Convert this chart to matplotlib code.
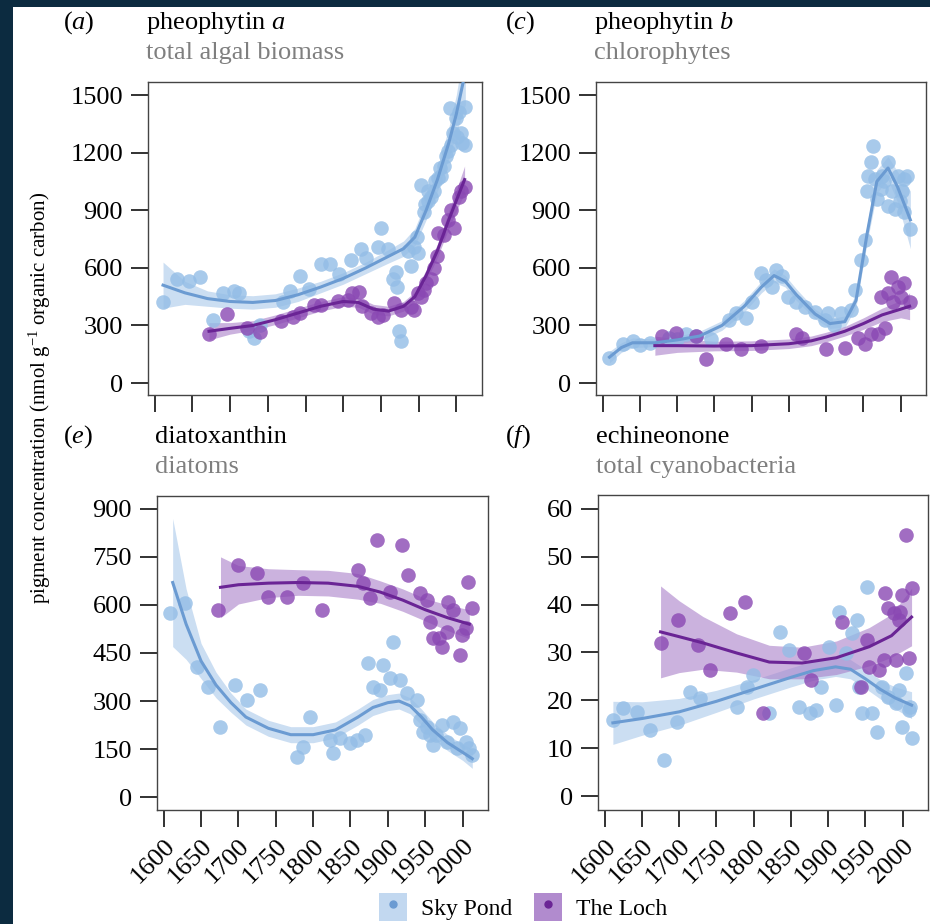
import matplotlib
matplotlib.use("Agg")
import matplotlib.pyplot as plt
from matplotlib.patches import Rectangle, Patch
from matplotlib.lines import Line2D
import numpy as np

plt.rcParams["font.family"] = ["Liberation Serif", "DejaVu Serif"]
plt.rcParams["mathtext.fontset"] = "custom"
plt.rcParams["mathtext.rm"] = "Liberation Serif"
plt.rcParams["mathtext.it"] = "Liberation Serif:italic"

# ---- colours
sky_pt, sky_line, sky_band = "#93bde6", "#6b9bd2", "#a9c8ea"
loch_pt, loch_line, loch_band = "#8a48b3", "#6a2495", "#a97fc9"

# ---- (a) pheophytin a
a_sky_yr = [1611, 1630, 1645, 1660, 1677, 1690, 1705, 1712, 1725, 1732, 1740, 1770, 1780, 1793, 1805,
            1820, 1833, 1845, 1860, 1873, 1880, 1896, 1900, 1909, 1916, 1920, 1922, 1924, 1926, 1936,
            1940, 1944, 1948, 1949, 1953, 1957, 1958, 1962, 1963, 1967, 1970, 1972, 1976, 1978, 1980,
            1984, 1986, 1989, 1991, 1993, 1995, 1999, 2001, 2004, 2006, 2008, 2011, 2012]
a_sky_val = [420, 540, 530, 550, 330, 470, 480, 470, 270, 235, 300, 420, 480, 560, 490,
             620, 620, 570, 640, 700, 650, 710, 810, 700, 540, 580, 500, 270, 220, 690,
             610, 710, 760, 680, 1030, 890, 930, 950, 1000, 970, 1000, 1050, 1070, 1120, 1080,
             1130, 1180, 1210, 1430, 1240, 1300, 1380, 1280, 1410, 1300, 1250, 1440, 1240]
a_loch_yr = [1672, 1696, 1723, 1740, 1767, 1784, 1793, 1811, 1820, 1843, 1857, 1862, 1871, 1875, 1887,
             1896, 1903, 1917, 1927, 1940, 1944, 1949, 1953, 1957, 1960, 1967, 1970, 1974, 1976, 1984,
             1989, 1993, 1997, 2003, 2006, 2011]
a_loch_val = [255, 360, 285, 265, 325, 345, 365, 405, 405, 430, 435, 470, 475, 400, 365,
              345, 355, 415, 380, 395, 380, 470, 450, 485, 520, 540, 600, 660, 780, 770,
              850, 900, 810, 970, 1000, 1020]
a_sky_fit_yr = [1611, 1640, 1670, 1700, 1730, 1760, 1790, 1820, 1850, 1880, 1910, 1930, 1945, 1960,
                1975, 1990, 2000, 2012]
a_sky_fit = [510, 470, 440, 425, 420, 430, 460, 500, 545, 600, 660, 700, 760, 900, 1060, 1250, 1400, 1620]
a_sky_se = [120, 60, 40, 35, 35, 35, 35, 30, 30, 30, 35, 40, 45, 50, 60, 80, 100, 170]
a_loch_fit_yr = [1672, 1700, 1730, 1760, 1790, 1820, 1850, 1870, 1890, 1910, 1930, 1945, 1960, 1975,
                 1990, 2000, 2011]
a_loch_fit = [270, 285, 300, 330, 365, 400, 425, 420, 385, 375, 400, 450, 560, 690, 850, 950, 1060]
a_loch_se = [45, 30, 25, 25, 25, 25, 25, 25, 25, 25, 25, 25, 30, 35, 45, 55, 70]

# ---- (c) pheophytin b
c_sky_yr = [1609, 1627, 1640, 1650, 1663, 1689, 1700, 1712, 1725, 1745, 1769, 1779, 1792, 1800, 1813,
            1819, 1827, 1832, 1840, 1849, 1860, 1872, 1885, 1899, 1903, 1910, 1920, 1933, 1939, 1947,
            1952, 1955, 1956, 1960, 1963, 1965, 1968, 1973, 1975, 1978, 1983, 1983, 1988, 1992, 1996,
            1999, 2002, 2005, 2005, 2009, 2013]
c_sky_val = [132, 205, 221, 200, 210, 237, 230, 258, 247, 230, 326, 363, 337, 420, 574,
             537, 500, 590, 560, 447, 420, 395, 370, 326, 363, 300, 363, 379, 484, 642,
             747, 1000, 1079, 1153, 1237, 1063, 960, 1010, 1080, 1050, 1153, 921, 1000, 905, 1079,
             950, 1000, 1063, 889, 1079, 800]
c_loch_yr = [1680, 1699, 1725, 1739, 1765, 1785, 1813, 1859, 1867, 1900, 1925, 1943, 1952, 1960, 1969,
             1973, 1979, 1983, 1987, 1990, 1996, 2000, 2005, 2013]
c_loch_val = [247, 263, 247, 126, 205, 179, 195, 258, 237, 179, 184, 237, 205, 258, 258,
              447, 289, 468, 553, 420, 500, 450, 521, 421]
c_sky_fit_yr = [1609, 1625, 1640, 1670, 1700, 1730, 1760, 1790, 1813, 1830, 1845, 1860, 1885, 1905,
                1925, 1940, 1955, 1968, 1983, 1996, 2013]
c_sky_fit = [135, 185, 210, 210, 225, 245, 300, 400, 500, 560, 530, 460, 360, 310, 320, 430, 780,
             1050, 1120, 1020, 850]
c_sky_se = [30, 25, 25, 20, 20, 25, 25, 30, 30, 35, 30, 30, 25, 25, 30, 35, 45, 60, 60, 80, 150]
c_loch_fit_yr = [1670, 1700, 1750, 1800, 1850, 1880, 1900, 1925, 1950, 1975, 2000, 2012]
c_loch_fit = [195, 195, 193, 195, 205, 220, 240, 270, 310, 355, 385, 400]
c_loch_se = [50, 35, 25, 25, 25, 25, 25, 25, 30, 35, 45, 70]

# ---- (e) diatoxanthin
e_sky_yr = [1609, 1629, 1645, 1659, 1676, 1696, 1712, 1729, 1779, 1787, 1796, 1823, 1827, 1836, 1849,
            1859, 1869, 1873, 1880, 1889, 1893, 1903, 1907, 1916, 1925, 1939, 1943, 1947, 1952, 1956,
            1960, 1965, 1973, 1979, 1987, 1992, 1996, 2005, 2009, 2013]
e_sky_val = [575, 606, 406, 344, 219, 350, 303, 334, 125, 156, 250, 178, 137, 184, 169,
             178, 194, 419, 344, 334, 412, 372, 484, 366, 325, 303, 241, 203, 219, 194,
             162, 194, 225, 172, 234, 153, 216, 172, 153, 131]
e_loch_yr = [1673, 1699, 1725, 1740, 1765, 1787, 1812, 1860, 1867, 1876, 1885, 1903, 1919, 1927, 1943,
             1952, 1956, 1960, 1969, 1973, 1979, 1980, 1987, 1996, 1999, 2005, 2007, 2012]
e_loch_val = [584, 725, 700, 625, 625, 669, 584, 709, 669, 622, 803, 641, 788, 694, 638,
              616, 547, 497, 497, 469, 516, 609, 584, 444, 506, 528, 672, 591]
e_sky_fit_yr = [1612, 1630, 1650, 1670, 1690, 1710, 1740, 1770, 1800, 1830, 1860, 1880, 1900, 1915,
                1930, 1945, 1960, 1980, 2000, 2013]
e_sky_fit = [670, 540, 425, 350, 295, 250, 215, 195, 195, 210, 250, 280, 295, 300, 285, 250, 210,
             170, 140, 120]
e_sky_se = [200, 110, 55, 40, 30, 25, 25, 25, 25, 25, 25, 25, 25, 25, 25, 25, 25, 25, 25, 30]
e_loch_fit_yr = [1676, 1700, 1740, 1780, 1820, 1860, 1890, 1920, 1950, 1980, 2009]
e_loch_fit = [655, 663, 668, 670, 668, 658, 640, 615, 585, 560, 540]
e_loch_se = [95, 60, 45, 40, 40, 40, 35, 35, 35, 40, 45]

# ---- (f) echineonone
f_sky_yr = [1611, 1625, 1644, 1661, 1679, 1697, 1715, 1728, 1777, 1791, 1799, 1821, 1835, 1848, 1861,
            1875, 1884, 1891, 1901, 1911, 1915, 1924, 1932, 1939, 1941, 1945, 1952, 1959, 1965, 1972,
            1981, 1991, 1995, 1999, 2004, 2008, 2010, 2012]
f_sky_val = [15.9, 18.4, 17.6, 13.8, 7.5, 15.5, 21.8, 20.5, 18.6, 22.8, 25.3, 17.4, 34.3, 30.5, 18.6,
             17.4, 18.0, 22.8, 31.2, 19.0, 38.5, 29.9, 34.1, 36.8, 22.8, 17.4, 43.7, 17.4, 13.4, 22.8,
             20.7, 19.5, 22.2, 14.4, 25.7, 18.0, 18.6, 12.1]
f_loch_yr = [1675, 1699, 1725, 1741, 1768, 1788, 1812, 1868, 1877, 1919, 1944, 1952, 1955, 1968, 1975,
             1977, 1981, 1988, 1991, 1995, 1997, 1999, 2004, 2008, 2012]
f_loch_val = [32.0, 36.8, 31.6, 26.4, 38.3, 40.6, 17.4, 29.9, 24.3, 36.4, 22.8, 32.6, 27.0, 26.4, 28.5,
              42.5, 39.3, 38.3, 28.5, 36.8, 38.5, 42.1, 54.6, 28.9, 43.5]
f_sky_fit_yr = [1611, 1650, 1700, 1750, 1800, 1850, 1880, 1910, 1930, 1950, 1970, 1990, 2012]
f_sky_fit = [15.3, 16.2, 17.6, 19.8, 22.3, 24.8, 26.2, 27.0, 26.5, 24.5, 22.3, 20.5, 19.0]
f_sky_se = [4.5, 3.5, 2.8, 2.3, 2.0, 2.0, 2.0, 2.0, 2.0, 2.0, 2.0, 2.3, 2.8]
f_loch_fit_yr = [1675, 1700, 1732, 1777, 1821, 1865, 1911, 1955, 1985, 2012]
f_loch_fit = [34.3, 33.3, 32.0, 29.9, 28.0, 27.8, 28.9, 31.2, 33.5, 37.4]
f_loch_se = [9.6, 7.5, 5.5, 4.0, 3.5, 3.3, 3.5, 4.0, 4.5, 6.0]

years = [1600, 1650, 1700, 1750, 1800, 1850, 1900, 1950, 2000]

panels = [
    # tag, pigment, group, rect, yticks, ylim, show x labels, sky data, loch data
    ("a", "pheophytin $a$", "total algal biomass", [0.1591, 0.5725, 0.3591, 0.3388],
     [0, 300, 600, 900, 1200, 1500], (-62, 1568), False,
     (a_sky_yr, a_sky_val, a_sky_fit_yr, a_sky_fit, a_sky_se),
     (a_loch_yr, a_loch_val, a_loch_fit_yr, a_loch_fit, a_loch_se)),
    ("c", "pheophytin $b$", "chlorophytes", [0.6409, 0.5725, 0.3548, 0.3388],
     [0, 300, 600, 900, 1200, 1500], (-62, 1568), False,
     (c_sky_yr, c_sky_val, c_sky_fit_yr, c_sky_fit, c_sky_se),
     (c_loch_yr, c_loch_val, c_loch_fit_yr, c_loch_fit, c_loch_se)),
    ("e", "diatoxanthin", "diatoms", [0.1688, 0.1234, 0.3559, 0.3398],
     [0, 150, 300, 450, 600, 750, 900], (-40, 940), True,
     (e_sky_yr, e_sky_val, e_sky_fit_yr, e_sky_fit, e_sky_se),
     (e_loch_yr, e_loch_val, e_loch_fit_yr, e_loch_fit, e_loch_se)),
    ("f", "echineonone", "total cyanobacteria", [0.6430, 0.1234, 0.3548, 0.3409],
     [0, 10, 20, 30, 40, 50, 60], (-2.9, 62.9), True,
     (f_sky_yr, f_sky_val, f_sky_fit_yr, f_sky_fit, f_sky_se),
     (f_loch_yr, f_loch_val, f_loch_fit_yr, f_loch_fit, f_loch_se)),
]

fig = plt.figure(figsize=(9.3, 9.24), dpi=100, facecolor="#0c2b40")
fig.patches.append(Rectangle((13 / 930, 0), 917 / 930, 917 / 924, transform=fig.transFigure,
                             facecolor="white", edgecolor="none", zorder=-10))

for tag, pig, grp, rect, yt, ylim, xlab, sky, loch in panels:
    ax = fig.add_axes(rect)
    ax.set_zorder(1)
    for (yr, val, fyr, fit, se), pc, lc, bc in [(sky, sky_pt, sky_line, sky_band),
                                                 (loch, loch_pt, loch_line, loch_band)]:
        fit = np.array(fit)
        se = np.array(se)
        ax.fill_between(fyr, fit - se, fit + se, color=bc, alpha=0.6, lw=0, zorder=2)
        ax.scatter(yr, val, s=110, color=pc, alpha=0.8, lw=0, zorder=3)
        ax.plot(fyr, fit, color=lc, lw=2.2, zorder=4)
    ax.set_xlim(1591, 2034)
    ax.set_ylim(*ylim)
    ax.set_yticks(yt)
    ax.set_xticks(years)
    if xlab:
        ax.set_xticklabels([str(y) for y in years], rotation=45, ha="right", va="top",
                           rotation_mode="anchor")
    else:
        ax.set_xticklabels([])
    ax.tick_params(axis="both", direction="out", length=12, width=1.3, labelsize=19, pad=6,
                   color="#222222")
    for sp in ax.spines.values():
        sp.set_color("#444444")
        sp.set_linewidth(1.0)
    x0 = rect[0]
    lab_x = 63 / 930 if tag in ("a", "e") else 505 / 930
    ty = 1 - 23 / 924 if tag in ("a", "c") else 1 - 437 / 924
    sy = 1 - 53 / 924 if tag in ("a", "c") else 1 - 467 / 924
    fig.text(lab_x, ty, f"(${tag}$)", fontsize=19, va="center", ha="left")
    fig.text(x0 - 0.002, ty, pig, fontsize=19, va="center", ha="left")
    fig.text(x0 - 0.002, sy, grp, fontsize=19, va="center", ha="left", color="#7f7f7f")

fig.text(40 / 930, 1 - 398 / 924, "pigment concentration (nmol g$^{-1}$ organic carbon)",
         rotation=90, fontsize=15, va="center", ha="center")

h_sky = (Patch(facecolor=sky_band, alpha=0.7, edgecolor="none"),
         Line2D([], [], marker="o", ls="none", color=sky_line, ms=5))
h_loch = (Patch(facecolor=loch_band, alpha=0.9, edgecolor="none"),
          Line2D([], [], marker="o", ls="none", color=loch_line, ms=5))
fig.legend([h_sky, h_loch], ["Sky Pond", "The Loch"], loc="center", ncol=2,
           bbox_to_anchor=(523 / 930, 1 - 907 / 924), frameon=False, fontsize=17,
           handlelength=1.2, handleheight=1.4, columnspacing=0.9, handletextpad=0.6)

fig.savefig("out.png", dpi=100, facecolor=fig.get_facecolor())
